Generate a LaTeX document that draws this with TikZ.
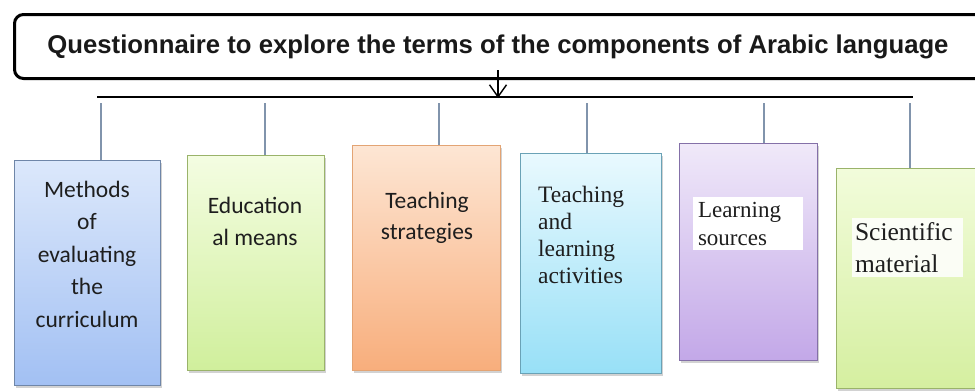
\documentclass[tikz,border=0pt]{standalone}
\usepackage{fontspec}
\setmainfont{Liberation Serif}
\newfontfamily\calfont{Carlito}
\newfontfamily\tmsfont{Liberation Serif}
\newfontfamily\arifont{Liberation Sans}
\usetikzlibrary{arrows.meta,shadows}
\definecolor{txt}{HTML}{1E1E1E}
\definecolor{drop}{HTML}{8194AC}
\definecolor{bdA}{HTML}{6F86A8}\definecolor{tA}{HTML}{DCE8FB}\definecolor{bA}{HTML}{A2C0F3}
\definecolor{bdB}{HTML}{9AB36A}\definecolor{tB}{HTML}{F4FDE2}\definecolor{bB}{HTML}{D0EF9C}
\definecolor{bdC}{HTML}{E3A474}\definecolor{tC}{HTML}{FDE6D4}\definecolor{bC}{HTML}{F8AE7C}
\definecolor{bdD}{HTML}{6AA2B6}\definecolor{tD}{HTML}{E9F9FE}\definecolor{bD}{HTML}{98E0F7}
\definecolor{bdE}{HTML}{8470A8}\definecolor{tE}{HTML}{F0E9F9}\definecolor{bE}{HTML}{C3A8E8}
\definecolor{bdF}{HTML}{9AB36A}\definecolor{tF}{HTML}{F2FCDB}\definecolor{bF}{HTML}{D5EFA0}
\tikzset{
  card/.style={draw=bd#1, top color=t#1, bottom color=b#1, line width=1pt, inner sep=0pt, rectangle,
    drop shadow={shadow xshift=2pt, shadow yshift=-2.5pt, opacity=0.35, fill=gray}},
  calt/.style={inner sep=0pt, text=txt, align=center, font=\calfont\fontsize{23.5}{32.5}\selectfont},
  tmst/.style={inner sep=0pt, text=txt, align=left, font=\tmsfont\fontsize{23.5}{27}\selectfont},
  dropline/.style={draw=drop, line width=1.6pt},
}
\begin{document}
\begin{tikzpicture}[x=1pt,y=-1pt]
\useasboundingbox (0,0) rectangle (975,391);
\clip (0,0) rectangle (975,391);
\fill[white] (0,0) rectangle (975,391);

% title
\node[draw=black, line width=3pt, rounded corners=9pt, minimum width=978pt, minimum height=64pt, anchor=north west, inner sep=0pt] (title) at (13,13) {};
\node[inner sep=0pt, text=black!90, font=\arifont\bfseries\fontsize{25.7}{28}\selectfont] (ttext) at (498,47) {Questionnaire to explore the terms of the components of Arabic language};

% bar
\coordinate (barL) at (97,97);
\coordinate (barR) at (913,97);
\coordinate (arr) at (498,98);
\coordinate (arrs) at (498,70);
\draw[line width=1.5pt] (barL) -- (barR);
\draw[line width=1.4pt, -{Straight Barb[length=12pt,width=17pt]}] (arrs) -- (arr);

% boxes
\node[card=A, minimum width=146pt, minimum height=225pt] (b1) at (87,272.5) {};
\node[card=B, minimum width=137pt, minimum height=215pt] (b2) at (255.5,262.5) {};
\node[card=C, minimum width=148pt, minimum height=225pt] (b3) at (426,257.5) {};
\node[card=D, minimum width=141pt, minimum height=220pt] (b4) at (590.5,263) {};
\node[card=E, minimum width=138pt, minimum height=217pt] (b5) at (748,251.5) {};
\node[card=F, minimum width=164pt, minimum height=220pt] (b6) at (918,278) {};

% drops
\foreach \i/\x in {1/101,2/265,3/439,4/587,5/764,6/910}{
  \coordinate (d\i) at (\x,103);
  \draw[dropline] (d\i) -- (d\i |- b\i.north);
}

% texts
\node[calt] (t1) at (87,254) {Methods\\of\\evaluating\\the\\curriculum};
\node[calt] (t2) at (255,221.5) {Education\\al means};
\node[calt, font=\calfont\fontsize{23.5}{31}\selectfont] (t3) at (427,217.5) {Teaching\\strategies};
\node[tmst, anchor=west] (t4) at (538,235) {Teaching\\and\\learning\\activities};
\node[tmst, fill=white, text width=100pt, minimum width=110pt, minimum height=53pt, font=\tmsfont\fontsize{23}{28}\selectfont] (t5) at (748,223.5) {Learning\\sources};
\node[tmst, fill=white, fill opacity=0.85, text opacity=1, text width=105pt, minimum width=111pt, minimum height=59pt, font=\tmsfont\fontsize{25.5}{32}\selectfont] (t6) at (907.5,247.5) {Scientific\\material};
\end{tikzpicture}
\end{document}
